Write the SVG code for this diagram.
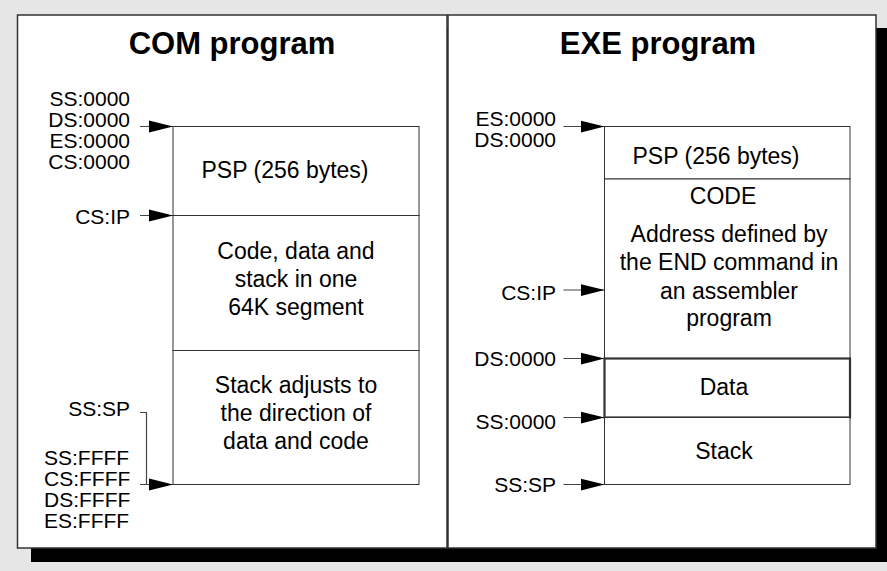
<svg xmlns="http://www.w3.org/2000/svg" width="887" height="571" viewBox="0 0 887 571">
<defs>
<style>
text{font-family:"Liberation Sans",Arial,Helvetica,sans-serif;fill:#000}
.title{font-size:31px;font-weight:bold;text-anchor:middle}
.body{font-size:23px;text-anchor:middle}
.lbl{font-size:21px;text-anchor:end}
.lblL{font-size:21px;text-anchor:start}
.panel{fill:#fff;stroke:#333;stroke-width:1.5}
.seg{fill:#fff;stroke:#333;stroke-width:1}
.data{fill:#fff;stroke:#333;stroke-width:2.2}
.conn{fill:none;stroke:#444;stroke-width:1.2}
</style>
<marker id="ah" markerUnits="userSpaceOnUse" markerWidth="24" markerHeight="13" refX="24" refY="6.5" orient="auto">
<path d="M0,0.5 L24,6.5 L0,12.5 z" fill="#000"/>
</marker>
</defs>
<rect x="0" y="0" width="887" height="571" fill="#e6e6e6"/>
<rect x="31" y="28" width="870" height="534" fill="#000"/>
<g id="com-panel">
<rect class="panel" x="17.5" y="15" width="429.5" height="533"/>
<text class="title" x="232" y="54">COM program</text>
</g>
<g id="exe-panel">
<rect class="panel" x="448" y="15" width="428" height="533"/>
<text class="title" x="658" y="54">EXE program</text>
</g>
<g id="com-psp">
<rect class="seg" x="173" y="126.5" width="246" height="89"/>
<text class="body" x="285" y="177.5">PSP (256 bytes)</text>
</g>
<g id="com-code">
<rect class="seg" x="173" y="215.5" width="246" height="135"/>
<text class="body" x="296" y="258.5">Code, data and</text>
<text class="body" x="296" y="286.5">stack in one</text>
<text class="body" x="296" y="314.5">64K segment</text>
</g>
<g id="com-stack">
<rect class="seg" x="173" y="350.5" width="246" height="134"/>
<text class="body" x="296" y="392.5">Stack adjusts to</text>
<text class="body" x="296" y="420.5">the direction of</text>
<text class="body" x="296" y="448.5">data and code</text>
</g>
<g id="com-labels">
<text class="lbl" x="130" y="105.5">SS:0000</text>
<text class="lbl" x="130" y="126.5">DS:0000</text>
<text class="lbl" x="130" y="147.5">ES:0000</text>
<text class="lbl" x="130" y="168.5">CS:0000</text>
<text class="lbl" x="130" y="223.5">CS:IP</text>
<text class="lbl" x="130" y="416">SS:SP</text>
<text class="lblL" x="44" y="465">SS:FFFF</text>
<text class="lblL" x="44" y="486">CS:FFFF</text>
<text class="lblL" x="44" y="507">DS:FFFF</text>
<text class="lblL" x="44" y="528">ES:FFFF</text>
</g>
<g id="exe-psp">
<rect class="seg" x="604.5" y="126.5" width="245.5" height="52.5"/>
<text class="body" x="716" y="164">PSP (256 bytes)</text>
</g>
<g id="exe-code">
<rect class="seg" x="604.5" y="179" width="245.5" height="179.5"/>
<text class="body" x="723" y="204">CODE</text>
<text class="body" x="729" y="242">Address defined by</text>
<text class="body" x="729" y="270">the END command in</text>
<text class="body" x="729" y="298.5">an assembler</text>
<text class="body" x="729" y="326">program</text>
</g>
<g id="exe-data">
<rect class="data" x="604.5" y="358.5" width="245.5" height="59"/>
<text class="body" x="724" y="395">Data</text>
</g>
<g id="exe-stack">
<rect class="seg" x="604.5" y="417.5" width="245.5" height="67"/>
<text class="body" x="724" y="458.5">Stack</text>
</g>
<g id="exe-labels">
<text class="lbl" x="556" y="126">ES:0000</text>
<text class="lbl" x="556" y="147">DS:0000</text>
<text class="lbl" x="556" y="300">CS:IP</text>
<text class="lbl" x="556" y="366">DS:0000</text>
<text class="lbl" x="556" y="428.5">SS:0000</text>
<text class="lbl" x="556" y="492">SS:SP</text>
</g>
<g id="connectors">
<path class="conn" d="M140,126.5 H173" marker-end="url(#ah)"/>
<path class="conn" d="M140,215.5 H173" marker-end="url(#ah)"/>
<path class="conn" d="M140,412.5 H146.5 V484.5"/>
<path class="conn" d="M140,484.5 H173" marker-end="url(#ah)"/>
<path class="conn" d="M563.5,126.5 H604.5" marker-end="url(#ah)"/>
<path class="conn" d="M563.5,290 H604.5" marker-end="url(#ah)"/>
<path class="conn" d="M563.5,358.5 H604.5" marker-end="url(#ah)"/>
<path class="conn" d="M563.5,417.5 H604.5" marker-end="url(#ah)"/>
<path class="conn" d="M563.5,484.5 H604.5" marker-end="url(#ah)"/>
</g>
</svg>
